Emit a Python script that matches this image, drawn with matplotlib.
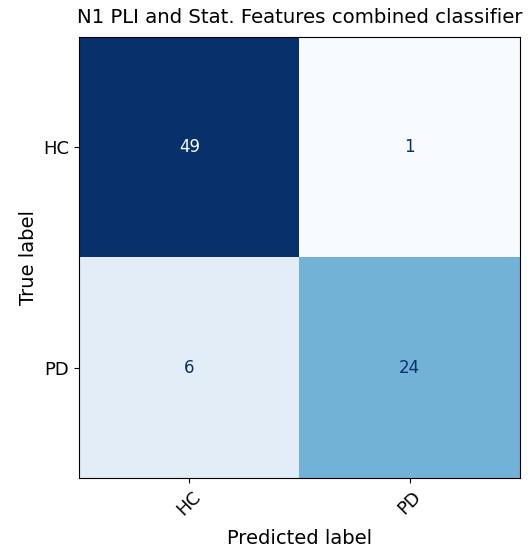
import matplotlib
matplotlib.use("Agg")
import matplotlib.pyplot as plt
import numpy as np

labels = ["HC", "PD"]
cm = np.array([[49, 1],
               [6, 24]])
title = "N1 PLI and Stat. Features combined classifier"

plt.rcParams['font.size'] = 13
fig = plt.figure(figsize=(5.31, 5.47), dpi=100)
ax = fig.add_axes([79/531, 1-478/547, (520-79)/531, (478-37)/547])
cmap = plt.get_cmap("Blues")
ax.imshow(cm, cmap=cmap, interpolation="nearest", aspect="auto")
thresh = (cm.max() + cm.min()) / 2.0
for i in range(cm.shape[0]):
    for j in range(cm.shape[1]):
        color = cmap(0.0) if cm[i, j] >= thresh else cmap(1.0)
        ax.text(j, i, str(cm[i, j]), ha="center", va="center", color=color, fontsize=12)
ax.set_xticks(range(len(labels)))
ax.set_yticks(range(len(labels)))
ax.set_xticklabels(labels, rotation=45, ha="center")
ax.set_yticklabels(labels)
ax.set_xlabel("Predicted label", fontsize=14, labelpad=7)
ax.set_ylabel("True label", fontsize=14)
ax.set_title(title, fontsize=14.2, pad=10)
fig.savefig("out.png", dpi=100)
